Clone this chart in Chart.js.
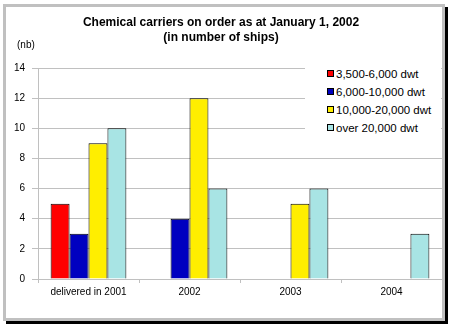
<!DOCTYPE html>
<html>
<head>
<meta charset="utf-8">
<script src="https://cdn.jsdelivr.net/npm/chart.js@4"></script>
<style>
  html, body { margin: 0; padding: 0; background: #fff; }
  #wrap { position: relative; width: 452px; height: 328px; }
  #chart { position: absolute; left: 0; top: 0; }
  #frame {
    position: absolute; left: 3px; top: 4px; width: 442px; height: 317px;
    box-sizing: border-box; border: 3px solid #c0c0c0;
    box-shadow: 3px 3px 0 #000; pointer-events: none;
  }
  #legend {
    position: absolute; left: 305px; top: 62px; width: 136px; height: 84px;
    background: #fff; font: 11.5px "Liberation Sans", Arial, sans-serif; color: #000;
  }
  #legend div { position: absolute; left: 22px; height: 14px; line-height: 14px; white-space: nowrap; }
  #legend span {
    display: inline-block; width: 5px; height: 5px; border: 1px solid #000;
    margin-right: 2px; vertical-align: 1px;
  }
</style>
</head>
<body>
<div id="wrap">
  <canvas id="chart" width="452" height="328"></canvas>
  <div id="legend"></div>
  <div id="frame"></div>
</div>
<script>
const categories = ['delivered in 2001', '2002', '2003', '2004'];
const seriesNames = ['3,500-6,000 dwt', '6,000-10,000 dwt', '10,000-20,000 dwt', 'over 20,000 dwt'];
const small = [5, 0, 0, 0];
const medium = [3, 4, 0, 0];
const large = [9, 12, 5, 0];
const xlarge = [10, 6, 6, 3];
const colors = ['#ff0000', '#0000c0', '#ffee00', '#a8e4e4'];
const yTicks = [0, 2, 4, 6, 8, 10, 12, 14];

const font = { family: '"Liberation Sans", Arial, sans-serif', size: 10 };

const unitLabel = {
    id: 'unitLabel',
    afterDraw(chart) {
        const c = chart.ctx;
        c.save();
        c.font = '10px "Liberation Sans", Arial, sans-serif';
        c.fillStyle = '#000';
        c.textBaseline = 'middle';
        c.fillText('(nb)', 17, chart.chartArea.top - 23);
        c.restore();
    }
};

const chart = new Chart(document.getElementById('chart').getContext('2d'), {
    type: 'bar',
    data: {
        labels: categories,
        datasets: [small, medium, large, xlarge].map((d, i) => ({
            label: seriesNames[i],
            data: d,
            backgroundColor: colors[i],
            borderColor: '#000',
            borderWidth: 1,
            borderSkipped: 'start'
        }))
    },
    options: {
        responsive: false,
        animation: false,
        layout: { padding: { top: 15, right: 10, left: 0, bottom: 0 } },
        plugins: {
            legend: { display: false },
            tooltip: { enabled: false },
            title: {
                display: true,
                text: ['Chemical carriers on order as at January 1, 2002', '(in number of ships)'],
                color: '#000',
                font: { family: font.family, size: 12, weight: 'bold', lineHeight: 1.25 },
                padding: { top: 0, bottom: 23 }
            }
        },
        datasets: { bar: { barPercentage: 1, categoryPercentage: 0.75 } },
        scales: {
            x: {
                grid: { display: true, drawOnChartArea: false, offset: true, tickLength: 4, color: '#c0c0c0' },
                border: { color: '#c0c0c0' },
                ticks: { color: '#000', font: font, padding: 3, maxRotation: 0 },
                afterFit(s) { s.height = 49; }
            },
            y: {
                min: 0, max: 14,
                afterBuildTicks(s) { s.ticks = yTicks.map(v => ({ value: v })); },
                grid: { color: '#c0c0c0', tickLength: 6 },
                border: { color: '#c0c0c0' },
                ticks: { color: '#000', font: font, padding: 7 },
                afterFit(s) { s.width = 38; }
            }
        }
    },
    plugins: [unitLabel]
});

const legend = document.getElementById('legend');
chart.data.datasets.forEach((ds, i) => {
    const row = document.createElement('div');
    row.style.top = (5 + i * 18) + 'px';
    const sw = document.createElement('span');
    sw.style.background = ds.backgroundColor;
    row.appendChild(sw);
    row.appendChild(document.createTextNode(ds.label));
    legend.appendChild(row);
});
</script>
</body>
</html>
